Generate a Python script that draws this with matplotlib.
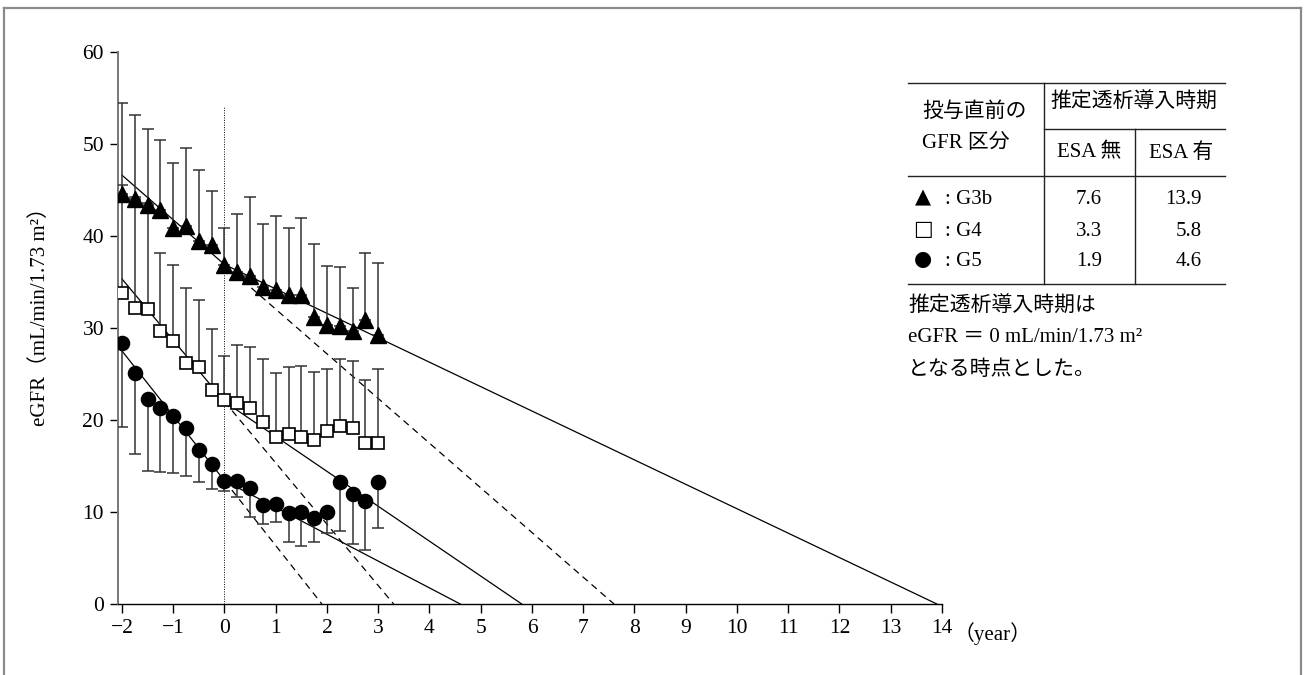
import matplotlib
matplotlib.use('Agg')
import matplotlib.pyplot as plt
from matplotlib.lines import Line2D

plt.rcParams['font.family'] = ['Liberation Serif', 'Noto Sans CJK JP']
plt.rcParams['axes.unicode_minus'] = True

W, H = 1304, 675

# time from first ESA dose (years), every 3 months
years = [-2.0, -1.75, -1.5, -1.25, -1.0, -0.75, -0.5, -0.25, 0.0, 0.25, 0.5,
         0.75, 1.0, 1.25, 1.5, 1.75, 2.0, 2.25, 2.5, 2.75, 3.0]

# G3b (triangles): mean and upper end of error bar
g3b_mean = [44.6, 44.0, 43.4, 42.8, 40.9, 41.1, 39.5, 39.0, 36.8, 36.1, 35.6,
            34.5, 34.1, 33.6, 33.6, 31.2, 30.3, 30.2, 29.7, 30.9, 29.2]
g3b_upper = [54.5, 53.2, 51.6, 50.4, 47.9, 49.6, 47.2, 44.9, 40.9, 42.4, 44.2,
             41.3, 42.2, 40.9, 42.0, 39.1, 36.7, 36.6, 34.3, 38.2, 37.1]

# G4 (squares): mean and upper end of error bar
g4_mean = [33.8, 32.2, 32.1, 29.7, 28.6, 26.2, 25.8, 23.3, 22.2, 21.9, 21.3,
           19.8, 18.2, 18.5, 18.2, 17.8, 18.8, 19.3, 19.1, 17.5, 17.5]
g4_upper = [45.5, 44.2, 43.6, 38.2, 36.8, 34.3, 33.0, 29.9, 27.0, 28.2, 27.9,
            26.6, 25.1, 25.8, 25.9, 25.2, 25.5, 26.6, 26.4, 24.3, 25.5]

# G5 (circles): mean and lower end of error bar
g5_mean = [28.4, 25.1, 22.3, 21.3, 20.4, 19.1, 16.7, 15.2, 13.4, 13.4, 12.6,
           10.8, 10.9, 9.9, 10.0, 9.3, 10.0, 13.3, 12.0, 11.2, 13.3]
g5_lower = [19.2, 16.3, 14.5, 14.3, 14.2, 13.9, 13.3, 12.5, 12.3, 11.6, 9.5,
            8.7, 8.9, 6.7, 6.3, 6.7, 7.7, 7.9, 6.5, 5.9, 8.3]

# regression lines: eGFR at time 0, estimated dialysis start without / with ESA
groups = ['G3b', 'G4', 'G5']
fit_at_zero = [36.9, 22.0, 13.4]
start_no_esa = [7.6, 3.3, 1.9]
start_esa = [13.9, 5.8, 4.6]
group_symbols = ['▲', '□', '●']

x_ticks = list(range(-2, 15))
y_ticks = [0, 10, 20, 30, 40, 50, 60]


def fx(px):
    return px / W


def fy(py):
    return 1 - py / H


fig = plt.figure(figsize=(W / 100, H / 100), dpi=100)
ax = fig.add_axes([fx(118), fy(604), (942 - 118) / W, (604 - 52) / H])

ax.plot([0, 0], [0, 54], ls=(0, (1, 1.5)), color='black', lw=0.7, zorder=1)

# regression lines
for a, t_no, t_yes in zip(fit_at_zero, start_no_esa, start_esa):
    pre = a * (1 + 2 / t_no)
    ax.plot([-2, 0], [pre, a], color='black', lw=0.9, zorder=2)
    ax.plot([0, t_no], [a, 0], color='black', lw=0.9, ls=(0, (5.5, 4)), zorder=2)
    ax.plot([0, t_yes], [a, 0], color='black', lw=0.9, zorder=2)

err_kw = dict(fmt='none', ecolor='#333333', elinewidth=1.1, capsize=4.3,
              capthick=1.1, zorder=3)
ax.errorbar(years, g5_mean,
            yerr=[[m - l for m, l in zip(g5_mean, g5_lower)], [0] * len(years)], **err_kw)
ax.errorbar(years, g4_mean,
            yerr=[[0] * len(years), [u - m for m, u in zip(g4_mean, g4_upper)]], **err_kw)
ax.errorbar(years, g3b_mean,
            yerr=[[0] * len(years), [u - m for m, u in zip(g3b_mean, g3b_upper)]], **err_kw)

ax.plot(years, g5_mean, 'o', color='black', ms=10.2, zorder=5)
ax.plot(years, g4_mean, 's', mfc='white', mec='black', mew=1.2, ms=8.7, zorder=5)
ax.plot(years, g3b_mean, '^', color='black', ms=11, zorder=5)

ax.set_xlim(-2.078, 14)
ax.set_ylim(0, 60)
ax.set_xticks(x_ticks)
ax.set_yticks(y_ticks)
ax.spines['top'].set_visible(False)
ax.spines['right'].set_visible(False)
ax.spines['left'].set_color('#777777')
ax.spines['left'].set_linewidth(1.4)
ax.spines['bottom'].set_linewidth(1.0)
ax.tick_params(axis='x', direction='out', length=6.5, width=1, labelsize=15.5, pad=4)
ax.tick_params(axis='y', direction='out', length=6, width=1, labelsize=15.5, pad=4)
ax.patch.set_alpha(0)

fig.text(fx(40), fy(312), 'eGFR（mL/min/1.73 m²）', rotation=90,
         ha='center', va='center', fontsize=15)
fig.text(fx(954), fy(634), '（year）', ha='left', va='center', fontsize=15)

# table
tbl_lines = [
    ([908, 1225], [83, 83]),
    ([1044, 1225], [129, 129]),
    ([908, 1225], [176, 176]),
    ([908, 1225], [284, 284]),
    ([1044, 1044], [83, 284]),
    ([1135, 1135], [129, 284]),
]
for xs, ys in tbl_lines:
    fig.add_artist(Line2D([fx(x) for x in xs], [fy(y) for y in ys],
                          color='#222222', lw=1.0))

fs = 15
fig.text(fx(922), fy(112), '投与直前の', ha='left', va='center', fontsize=fs)
fig.text(fx(922), fy(143), 'GFR 区分', ha='left', va='center', fontsize=fs)
fig.text(fx(1134), fy(103), '推定透析導入時期', ha='center', va='center', fontsize=fs)
fig.text(fx(1089), fy(153), 'ESA 無', ha='center', va='center', fontsize=fs)
fig.text(fx(1181), fy(153), 'ESA 有', ha='center', va='center', fontsize=fs)

row_y = [200, 232, 262]
for sym, g, t_no, t_yes, y in zip(group_symbols, groups, start_no_esa, start_esa, row_y):
    fig.text(fx(923), fy(y - 3), sym, ha='center', va='center', fontsize=15,
             family='DejaVu Sans')
    fig.text(fx(945), fy(y), f': {g}', ha='left', va='center', fontsize=fs)
    fig.text(fx(1089), fy(y), f'{t_no:.1f}', ha='center', va='center', fontsize=fs)
    fig.text(fx(1202), fy(y), f'{t_yes:.1f}', ha='right', va='center', fontsize=fs)

fig.text(fx(908), fy(307), '推定透析導入時期は', ha='left', va='center', fontsize=fs)
fig.text(fx(908), fy(338), 'eGFR ＝ 0 mL/min/1.73 m²', ha='left', va='center', fontsize=fs)
fig.text(fx(908), fy(370), 'となる時点とした。', ha='left', va='center', fontsize=fs)

# outer frame
frame_col = '#8a8a8a'
fig.add_artist(Line2D([fx(4), fx(4)], [0, fy(8)], color=frame_col, lw=1.6))
fig.add_artist(Line2D([fx(4), fx(1301)], [fy(8), fy(8)], color=frame_col, lw=1.6))
fig.add_artist(Line2D([fx(1301), fx(1301)], [fy(8), 0], color=frame_col, lw=1.6))

fig.savefig('out.png', dpi=100)
